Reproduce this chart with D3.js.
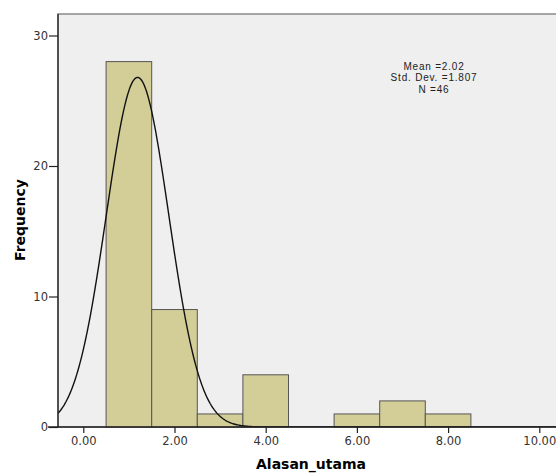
<!DOCTYPE html>
<html><head>
<meta charset="utf-8">
<script src="https://d3js.org/d3.v7.min.js"></script>
<style>
  body { margin: 0; background: #ffffff; }
  .tick text { font-family: 'DejaVu Sans', sans-serif; font-size: 11.5px; fill: #333; }
  .label { font-family: 'DejaVu Sans', sans-serif; font-size: 14px; font-weight: bold; fill: #000; }
  .stats { font-family: 'Liberation Sans', Arial, sans-serif; font-size: 10px; letter-spacing: 0.8px; fill: #222; }
</style>
</head>
<body>
<svg id="chart" width="556" height="473"></svg>
<script>

// histogram bins (start, end, count)
const binStarts = [0.5, 1.5, 2.5, 3.5, 5.5, 6.5, 7.5];
const binEnds   = [1.5, 2.5, 3.5, 4.5, 6.5, 7.5, 8.5];
const counts    = [28, 9, 1, 4, 1, 2, 1];

const xTicks = [0, 2, 4, 6, 8, 10];
const yTicks = [0, 10, 20, 30];
const statLines = ["Mean =2.02", "Std. Dev. =1.807", "N =46"];

// normal curve as drawn in the picture
const curveMean = 1.19;
const curveSd = 0.685;
const curveN = 46;

const svg = d3.select("#chart");
const plot = { left: 58, top: 14, right: 560, bottom: 427 };

const xScale = d3.scaleLinear().domain([0, 10]).range([83.3, 539.3]);
const yScale = d3.scaleLinear().domain([0, 30]).range([427, 35.5]);

// plot background
svg.append("rect")
   .attr("x", plot.left).attr("y", plot.top)
   .attr("width", plot.right - plot.left).attr("height", plot.bottom - plot.top)
   .attr("fill", "#efefef")
   .attr("stroke", "#8a8a8a")
   .attr("stroke-width", 1.5);

svg.append("clipPath").attr("id", "clip")
   .append("rect")
   .attr("x", plot.left).attr("y", plot.top)
   .attr("width", plot.right - plot.left).attr("height", plot.bottom - plot.top);

const bins = counts.map((c, i) => ({ x0: binStarts[i], x1: binEnds[i], n: c }));

svg.append("g").selectAll("rect").data(bins)
   .join("rect")
   .attr("x", d => xScale(d.x0))
   .attr("y", d => yScale(d.n))
   .attr("width", d => xScale(d.x1) - xScale(d.x0))
   .attr("height", d => yScale(0) - yScale(d.n))
   .attr("fill", "#d3ce98")
   .attr("stroke", "#555")
   .attr("stroke-width", 1);

// normal curve
const xDomain = [xScale.invert(plot.left), xScale.invert(plot.right)];
const pts = d3.range(xDomain[0], xDomain[1], 0.02).map(x => {
  const z = (x - curveMean) / curveSd;
  return [x, curveN / (curveSd * Math.sqrt(2 * Math.PI)) * Math.exp(-z * z / 2)];
});
svg.append("path")
   .datum(pts)
   .attr("clip-path", "url(#clip)")
   .attr("fill", "none")
   .attr("stroke", "#111")
   .attr("stroke-width", 1.4)
   .attr("d", d3.line().x(d => xScale(d[0])).y(d => yScale(d[1])));

// axes
const leftAxis = d3.axisLeft(yScale).tickValues(yTicks).tickSize(9).tickSizeOuter(0).tickPadding(1);
const ga = svg.append("g").attr("transform", `translate(${plot.left},0)`).call(leftAxis);
ga.select(".domain").attr("d", `M0,${plot.top}V${plot.bottom}`).attr("stroke", "#222").attr("stroke-width", 1.3);
ga.selectAll(".tick line").attr("stroke", "#222").attr("stroke-width", 1.2);

const bottomAxis = d3.axisBottom(xScale).tickValues(xTicks).tickFormat(d3.format(".2f")).tickSize(6).tickSizeOuter(0).tickPadding(4);
const gb = svg.append("g").attr("transform", `translate(0,${plot.bottom})`).call(bottomAxis);
gb.select(".domain").attr("d", `M${plot.left - 10},0H${plot.right}`).attr("stroke", "#222").attr("stroke-width", 1.3);
gb.selectAll(".tick line").attr("stroke", "#222").attr("stroke-width", 1.2);

// axis titles
svg.append("text").attr("class", "label")
   .attr("text-anchor", "middle")
   .attr("x", 311).attr("y", 469)
   .text("Alasan_utama");

svg.append("text").attr("class", "label")
   .attr("text-anchor", "middle")
   .attr("transform", "translate(25,220)rotate(-90)")
   .text("Frequency");

// statistics box
svg.append("g").selectAll("text").data(statLines)
   .join("text")
   .attr("class", "stats")
   .attr("text-anchor", "middle")
   .attr("x", 434)
   .attr("y", (d, i) => 69.5 + i * 11.6)
   .text(d => d);

</script>
</body>
</html>
